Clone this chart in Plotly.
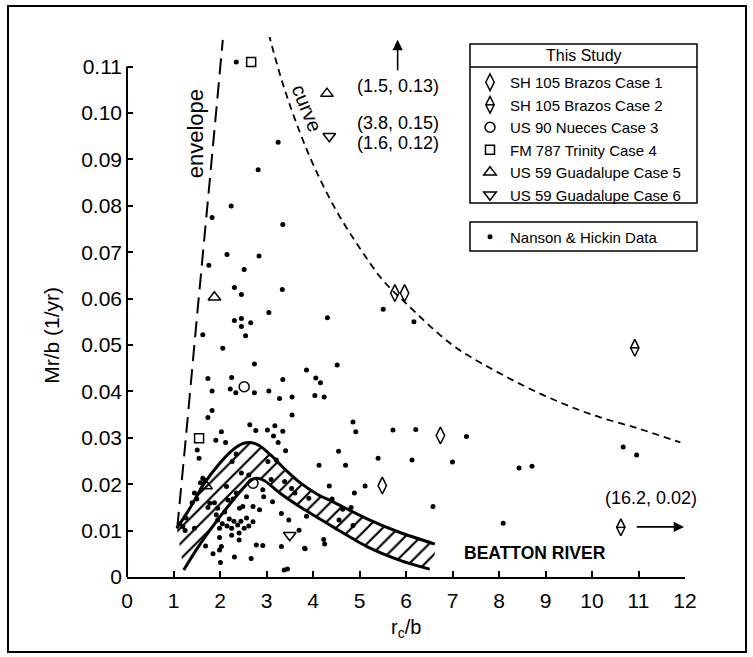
import plotly.graph_objects as go

# ---------------- data ----------------
nh_x = [2.35, 3.25, 2.82, 2.24, 1.83, 3.35, 2.15, 2.84, 1.76, 2.52, 2.31, 2.46, 3.34, 3.05, 4.31, 5.51, 6.17,
        2.31, 2.46, 2.66, 2.46, 2.55, 1.63, 2.06, 2.74, 3.86, 4.52, 1.74, 2.25, 3.35, 4.06, 4.16, 1.83, 2.22,
        2.34, 2.74, 3.05, 3.28, 3.55, 4.04, 4.24, 1.83, 1.74, 3.55, 2.64, 2.77, 3.02, 3.18, 3.35, 3.15, 3.25,
        2.03, 1.91, 2.12, 4.86, 4.92, 5.72, 6.21, 1.51, 1.55, 3.41, 4.55, 4.13, 4.70, 5.40, 6.13, 7.30, 7.00,
        8.43, 8.71, 10.67, 10.96, 6.58, 8.09, 4.35, 5.12, 4.89, 4.41, 4.82, 4.64, 3.91, 3.86, 4.56, 4.86, 4.23,
        4.25, 3.83,
        2.35, 2.26, 2.46, 2.62, 1.63, 1.68, 1.58, 1.45, 1.50, 1.40, 1.27, 1.20, 1.13, 1.25, 1.45, 1.78, 1.74,
        1.88, 1.95, 1.92, 1.95, 1.99, 2.05, 2.14, 2.17, 2.28, 2.35, 2.42, 2.49, 2.57, 2.57, 2.71, 2.71, 2.85,
        2.92, 2.94, 2.10, 2.20, 2.30, 2.38, 2.45, 2.52, 2.62, 2.25, 2.15, 1.99, 2.03, 1.99, 1.85, 2.01, 1.69,
        2.31, 2.41, 2.67, 2.78, 2.92, 2.41, 2.25, 3.03, 3.21, 3.10, 3.13, 3.32, 3.48, 3.39, 3.54, 3.61, 3.70,
        3.32, 3.82, 3.38, 3.45]
nh_y = [0.1110, 0.0937, 0.0878, 0.0800, 0.0775, 0.0760, 0.0695, 0.0692, 0.0672, 0.0663, 0.0624, 0.0609,
        0.0620, 0.0570, 0.0559, 0.0577, 0.0550, 0.0553, 0.0557, 0.0548, 0.0540, 0.0520, 0.0522, 0.0493,
        0.0459, 0.0446, 0.0457, 0.0428, 0.0430, 0.0426, 0.0429, 0.0419, 0.0401, 0.0405, 0.0397, 0.0397,
        0.0401, 0.0385, 0.0388, 0.0391, 0.0388, 0.0359, 0.0344, 0.0349, 0.0328, 0.0316, 0.0317, 0.0326,
        0.0314, 0.0304, 0.0290, 0.0313, 0.0295, 0.0290, 0.0334, 0.0313, 0.0317, 0.0318, 0.0274, 0.0256,
        0.0272, 0.0271, 0.0241, 0.0241, 0.0256, 0.0252, 0.0303, 0.0248, 0.0235, 0.0239, 0.0280, 0.0263,
        0.0152, 0.0116, 0.0196, 0.0196, 0.0181, 0.0168, 0.0150, 0.0146, 0.0170, 0.0131, 0.0123, 0.0111,
        0.0081, 0.0071, 0.0061,
        0.0265, 0.0249, 0.0224, 0.0220, 0.0213, 0.0208, 0.0203, 0.0181, 0.0168, 0.0160, 0.0127, 0.0109,
        0.0115, 0.0100, 0.0105, 0.0159, 0.0150, 0.0160, 0.0148, 0.0134, 0.0123, 0.0105, 0.0115, 0.0195,
        0.0166, 0.0168, 0.0181, 0.0148, 0.0152, 0.0173, 0.0127, 0.0152, 0.0119, 0.0145, 0.0188, 0.0173,
        0.0140, 0.0125, 0.0120, 0.0112, 0.0120, 0.0105, 0.0110, 0.0105, 0.0110, 0.0085, 0.0066, 0.0058,
        0.0050, 0.0031, 0.0067, 0.0043, 0.0080, 0.0040, 0.0069, 0.0068, 0.0095, 0.0090, 0.0249, 0.0252,
        0.0210, 0.0162, 0.0137, 0.0123, 0.0206, 0.0191, 0.0181, 0.0101, 0.0066, 0.0062, 0.0015, 0.0017]

case1_x = [5.76, 5.97, 6.74, 5.49]
case1_y = [0.0612, 0.0612, 0.0305, 0.0197]
case2_x = [10.92, 10.62]
case2_y = [0.0494, 0.0107]
case3_x = [2.52, 2.71]
case3_y = [0.0410, 0.0202]
case4_x = [2.67, 1.55]
case4_y = [0.1110, 0.0299]
case5_x = [4.30, 1.88, 1.70]
case5_y = [0.1042, 0.0603, 0.0196]
case6_x = [4.35, 3.50]
case6_y = [0.0950, 0.0090]

env_x = [1.08, 1.27, 1.49, 1.78, 2.06]
env_y = [0.0105, 0.0305, 0.0545, 0.0855, 0.1158]

curve_x = [3.05, 3.3, 3.6, 4.0, 4.5, 5.0, 5.5, 6.0, 7.0, 8.0, 9.0, 10.0, 11.0, 11.9]
curve_y = [0.117, 0.108, 0.099, 0.089, 0.079, 0.071, 0.064, 0.059, 0.050, 0.044, 0.039, 0.035, 0.032, 0.029]

beat_up_x = [1.07, 1.35, 1.65, 1.95, 2.25, 2.50, 2.65, 2.85, 3.10, 3.40, 3.70, 4.10, 4.43, 5.15, 5.87, 6.62]
beat_up_y = [0.0105, 0.0148, 0.0200, 0.0240, 0.0272, 0.0288, 0.0290, 0.0283, 0.0262, 0.0232, 0.0205,
             0.0178, 0.0162, 0.0126, 0.0096, 0.0071]
beat_lo_x = [1.22, 1.50, 1.80, 2.10, 2.40, 2.65, 2.80, 2.95, 3.30, 3.71, 4.10, 4.43, 5.15, 5.87, 6.51]
beat_lo_y = [0.0015, 0.0060, 0.0103, 0.0143, 0.0180, 0.0207, 0.0213, 0.0208, 0.0180, 0.0152, 0.0128,
             0.0108, 0.0066, 0.0036, 0.0017]

x_ticks = list(range(0, 13))
x_tick_text = [str(v) for v in x_ticks]
y_ticks = [0, 0.01, 0.02, 0.03, 0.04, 0.05, 0.06, 0.07, 0.08, 0.09, 0.10, 0.11]
y_tick_text = ["0", "0.01", "0.02", "0.03", "0.04", "0.05", "0.06", "0.07", "0.08", "0.09", "0.10", "0.11"]

legend_names = ["SH 105 Brazos Case 1", "SH 105 Brazos Case 2", "US 90 Nueces Case 3",
                "FM 787 Trinity Case 4", "US 59 Guadalupe Case 5", "US 59 Guadalupe Case 6"]

# ---------------- layout geometry (pixels) ----------------
W, H = 753, 657
L, R, T, B = 127, 68, 37, 80
PW, PH = W - L - R, H - T - B
Y_TOP = PH / 4639.0


def px(xp):
    return (xp - L) / PW


def py(yp):
    return (H - B - yp) / PH


FONT = "Liberation Sans, Arial, Helvetica, sans-serif"

fig = go.Figure()

# hatched Beatton River band
fig.add_trace(go.Scatter(
    x=beat_up_x + beat_lo_x[::-1], y=beat_up_y + beat_lo_y[::-1],
    mode="lines", fill="toself", line=dict(width=0, shape="spline", smoothing=0.6),
    fillcolor="rgba(0,0,0,0)",
    fillpattern=dict(shape="/", size=11, solidity=0.2, fgcolor="black", fillmode="replace"),
    showlegend=False, hoverinfo="skip"))
for bx, by in [(beat_up_x, beat_up_y), (beat_lo_x, beat_lo_y)]:
    fig.add_trace(go.Scatter(x=bx, y=by, mode="lines",
                             line=dict(color="black", width=3, shape="spline", smoothing=0.8),
                             showlegend=False, hoverinfo="skip"))

# envelope and curve
fig.add_trace(go.Scatter(x=env_x, y=env_y, mode="lines",
                         line=dict(color="black", width=2, dash="16px,8px", shape="spline"),
                         showlegend=False, hoverinfo="skip"))
fig.add_trace(go.Scatter(x=curve_x, y=curve_y, mode="lines",
                         line=dict(color="black", width=1.8, dash="7px,5px", shape="spline"),
                         showlegend=False, hoverinfo="skip"))

# Nanson & Hickin data
fig.add_trace(go.Scatter(x=nh_x, y=nh_y, mode="markers", name="Nanson &amp; Hickin Data",
                         marker=dict(symbol="circle", size=5, color="black"),
                         legend="legend2"))

# This study cases
case_specs = [
    (case1_x, case1_y, "diamond-tall-open", 12),
    (case2_x, case2_y, "diamond-tall-open", 12),
    (case3_x, case3_y, "circle-open", 10),
    (case4_x, case4_y, "square-open", 9),
    (case5_x, case5_y, "triangle-up-open", 11),
    (case6_x, case6_y, "triangle-down-open", 11),
]
for (cx, cy, sym, sz), nm in zip(case_specs, legend_names):
    fig.add_trace(go.Scatter(x=cx, y=cy, mode="markers", name=nm, legend="legend",
                             marker=dict(symbol=sym, size=sz, color="black",
                                         line=dict(color="black", width=1.5))))
# crossbar for Case 2 diamonds
fig.add_trace(go.Scatter(x=case2_x, y=case2_y, mode="markers", showlegend=False, hoverinfo="skip",
                         marker=dict(symbol="line-ew-open", size=6, color="black",
                                     line=dict(color="black", width=1.5))))

shapes = [
    # y axis line (0 .. 0.11)
    dict(type="line", xref="paper", yref="y", x0=0, x1=0, y0=0, y1=0.11,
         line=dict(color="black", width=2)),
    # legend boxes
    dict(type="rect", xref="paper", yref="paper", x0=px(470), x1=px(697), y0=py(203), y1=py(44),
         line=dict(color="black", width=1.5)),
    dict(type="line", xref="paper", yref="paper", x0=px(470), x1=px(697), y0=py(67), y1=py(67),
         line=dict(color="black", width=1.5)),
    dict(type="rect", xref="paper", yref="paper", x0=px(470), x1=px(697), y0=py(251), y1=py(222),
         line=dict(color="black", width=1.5)),
    # crossbar on legend glyph for Case 2
    dict(type="line", xref="paper", yref="paper", x0=px(486), x1=px(494), y0=py(104.8), y1=py(104.8),
         line=dict(color="black", width=1.5)),
    # figure frame
    dict(type="rect", xref="paper", yref="paper", x0=px(8), x1=px(746), y0=py(652), y1=py(6),
         line=dict(color="black", width=2)),
]

C = dict(xanchor="center", yanchor="middle", showarrow=False)
annots = [
    dict(x=1.49, y=0.0955, xref="x", yref="y", text="envelope", textangle=-90, font=dict(size=22), **C),
    dict(x=3.86, y=0.1010, xref="x", yref="y", text="curve", textangle=68, font=dict(size=20), **C),
    dict(x=5.82, y=0.1059, xref="x", yref="y", text="(1.5, 0.13)", font=dict(size=18), **C),
    dict(x=5.82, y=0.0978, xref="x", yref="y", text="(3.8, 0.15)", font=dict(size=18), **C),
    dict(x=5.82, y=0.0935, xref="x", yref="y", text="(1.6, 0.12)", font=dict(size=18), **C),
    dict(x=5.82, y=0.1158, ax=5.82, ay=0.1089, xref="x", yref="y", axref="x", ayref="y", text="",
         showarrow=True, arrowhead=2, arrowsize=1.3, arrowwidth=1.6, arrowcolor="black"),
    dict(x=11.26, y=0.0170, xref="x", yref="y", text="(16.2, 0.02)", font=dict(size=18), **C),
    dict(x=11.98, y=0.0108, ax=10.93, ay=0.0108, xref="x", yref="y", axref="x", ayref="y", text="",
         showarrow=True, arrowhead=2, arrowsize=1.3, arrowwidth=1.6, arrowcolor="black"),
    dict(x=8.77, y=0.0052, xref="x", yref="y", text="<b>BEATTON RIVER</b>", font=dict(size=17.5), **C),
    dict(x=px(583.5), y=py(55.5), xref="paper", yref="paper", text="This Study", font=dict(size=16), **C),
    dict(x=px(52), y=0.052, xref="paper", yref="y", text="Mr/b (1/yr)", textangle=-90,
         font=dict(size=21), **C),
    dict(x=px(406), y=py(628), xref="paper", yref="paper", text="r<sub>c</sub>/b", font=dict(size=20), **C),
]

fig.update_layout(
    width=W, height=H, margin=dict(l=L, r=R, t=T, b=B),
    paper_bgcolor="white", plot_bgcolor="white",
    font=dict(family=FONT, color="black"),
    showlegend=True,
    legend=dict(x=px(470), y=py(66), xanchor="left", yanchor="top", bgcolor="rgba(0,0,0,0)",
                borderwidth=0, tracegroupgap=0, font=dict(size=15)),
    legend2=dict(x=px(470), y=py(220.5), xanchor="left", yanchor="top", bgcolor="rgba(0,0,0,0)",
                 borderwidth=0, font=dict(size=15)),
    shapes=shapes, annotations=annots,
    xaxis=dict(range=[0, 12], tickvals=x_ticks, ticktext=x_tick_text, ticks="inside", ticklen=6,
               tickwidth=1.5, tickcolor="black", showline=True, linewidth=2, linecolor="black",
               showgrid=False, zeroline=False, tickfont=dict(size=21), ticklabelstandoff=4),
    yaxis=dict(range=[0, Y_TOP], tickvals=y_ticks, ticktext=y_tick_text, ticks="inside", ticklen=6,
               tickwidth=1.5, tickcolor="black", showline=False, showgrid=False, zeroline=False,
               tickfont=dict(size=21), ticklabelstandoff=4),
)

fig.write_html("out.html")
